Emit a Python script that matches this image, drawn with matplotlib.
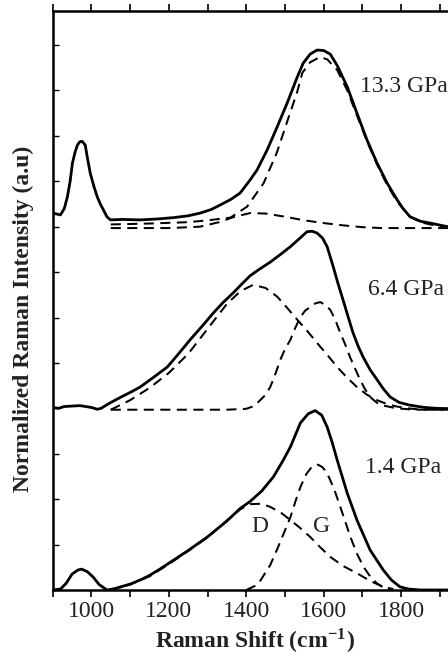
import matplotlib
matplotlib.use("Agg")
import matplotlib.pyplot as plt
from matplotlib.ticker import MultipleLocator

plt.rcParams['font.family'] = ['Liberation Serif', 'DejaVu Serif']
plt.rcParams['mathtext.fontset'] = 'stix'

# ---------------- data ----------------
# 1.4 GPa (offset 0)
x_p14 = [900, 920, 935, 950, 965, 975, 990, 1005, 1020, 1040, 1060, 1080, 1100, 1126, 1150, 1175,
         1200, 1250, 1300, 1350, 1385, 1410, 1440, 1470, 1495, 1514, 1540, 1560, 1578, 1595, 1609,
         1622, 1635, 1661, 1686, 1720, 1754, 1775, 1797, 1820, 1850, 2000]
y_p14 = [0.0, 0.02, 0.15, 0.35, 0.44, 0.46, 0.40, 0.28, 0.12, 0.0, 0.03, 0.08, 0.13, 0.22, 0.32, 0.45,
         0.59, 0.87, 1.17, 1.52, 1.80, 1.95, 2.18, 2.49, 2.85, 3.15, 3.68, 3.88, 3.95, 3.85, 3.59,
         3.25, 2.86, 2.13, 1.54, 0.88, 0.44, 0.22, 0.07, 0.02, 0.0, 0.0]
x_p14_D = [1050, 1100, 1150, 1200, 1250, 1300, 1350, 1385, 1410, 1440, 1462, 1490, 1514, 1540,
           1565, 1590, 1617, 1650, 1686, 1720, 1754, 1780]
y_p14_D = [0.0, 0.12, 0.30, 0.57, 0.86, 1.16, 1.53, 1.78, 1.89, 1.90, 1.83, 1.70, 1.54, 1.36,
           1.17, 0.95, 0.73, 0.53, 0.37, 0.20, 0.07, 0.02]
x_p14_G = [1400, 1430, 1462, 1480, 1497, 1514, 1527, 1540, 1555, 1570, 1585, 1596, 1607, 1617,
           1630, 1643, 1656, 1669, 1686, 1703, 1720, 1737, 1755, 1771]
y_p14_G = [0.0, 0.12, 0.55, 0.90, 1.25, 1.60, 1.95, 2.27, 2.55, 2.72, 2.76, 2.71, 2.60, 2.42,
           2.15, 1.83, 1.50, 1.17, 0.80, 0.51, 0.30, 0.15, 0.05, 0.0]

# 6.4 GPa (offset ~4)
x_p64 = [900, 915, 930, 950, 970, 985, 1000, 1015, 1025, 1044, 1070, 1100, 1126, 1160, 1196, 1225,
         1255, 1285, 1315, 1340, 1366, 1390, 1410, 1435, 1462, 1490, 1514, 1535, 1557, 1570, 1583,
         1597, 1609, 1625, 1637, 1650, 1663, 1676, 1690, 1702, 1720, 1738, 1755, 1772, 1795, 1823,
         1860, 1893, 2000]
y_p64 = [4.02, 4.00, 4.04, 4.05, 4.06, 4.04, 4.02, 3.98, 4.00, 4.10, 4.22, 4.35, 4.47, 4.68, 4.91, 5.20,
         5.51, 5.80, 6.10, 6.33, 6.54, 6.75, 6.92, 7.07, 7.22, 7.40, 7.56, 7.72, 7.89, 7.90, 7.86,
         7.75, 7.56, 7.11, 6.75, 6.39, 6.02, 5.66, 5.35, 5.13, 4.85, 4.63, 4.42, 4.25, 4.13, 4.07,
         4.02, 4.00, 3.98]
x_p64_D = [1050, 1100, 1150, 1200, 1250, 1300, 1350, 1385, 1418, 1450, 1480, 1505, 1532, 1558,
           1583, 1610, 1635, 1660, 1686, 1712, 1738, 1765, 1789, 1820, 1850, 2000]
y_p64_D = [3.97, 4.18, 4.45, 4.78, 5.20, 5.75, 6.30, 6.58, 6.72, 6.65, 6.46, 6.22, 5.95, 5.70,
           5.44, 5.17, 4.91, 4.68, 4.47, 4.30, 4.18, 4.09, 4.04, 4.00, 3.97, 3.97]
x_p64_G = [1050, 1200, 1350, 1400, 1420, 1436, 1450, 1462, 1475, 1488, 1500, 1514, 1527, 1540,
           1552, 1565, 1578, 1591, 1604, 1617, 1630, 1643, 1656, 1668, 1681, 1694, 1707, 1720,
           1738, 1755, 1789, 1820, 1850, 2000]
y_p64_G = [3.97, 3.97, 3.97, 3.99, 4.05, 4.18, 4.30, 4.47, 4.75, 5.07, 5.30, 5.51, 5.78, 6.01,
           6.15, 6.23, 6.31, 6.34, 6.28, 6.17, 5.95, 5.66, 5.40, 5.13, 4.88, 4.63, 4.42, 4.25,
           4.12, 4.06, 4.00, 3.98, 3.97, 3.97]

# 13.3 GPa (offset ~8)
x_p133 = [900, 920, 930, 938, 945, 951, 958, 964, 970, 976, 984, 990, 997, 1006, 1015, 1023, 1031,
          1040, 1049, 1080, 1126, 1170, 1212, 1250, 1281, 1310, 1333, 1360, 1384, 1410, 1428, 1454,
          1480, 1506, 1532, 1547, 1565, 1583, 1600, 1617, 1635, 1661, 1686, 1712, 1738, 1764, 1790,
          1805, 1823, 1850, 1875, 1920, 2000]
y_p133 = [8.30, 8.26, 8.40, 8.66, 9.00, 9.40, 9.65, 9.80, 9.87, 9.88, 9.80, 9.50, 9.18, 8.90, 8.66,
          8.50, 8.37, 8.22, 8.15, 8.16, 8.15, 8.17, 8.20, 8.24, 8.30, 8.38, 8.48, 8.60, 8.74, 9.03,
          9.25, 9.69, 10.20, 10.73, 11.30, 11.60, 11.80, 11.89, 11.88, 11.80, 11.55, 11.08, 10.50,
          9.91, 9.40, 8.96, 8.59, 8.40, 8.22, 8.12, 8.08, 8.00, 7.98]
x_p133_D = [1050, 1200, 1280, 1330, 1370, 1410, 1450, 1500, 1550, 1600, 1650, 1700, 1750, 2000]
y_p133_D = [7.97, 7.97, 8.00, 8.10, 8.22, 8.30, 8.29, 8.22, 8.14, 8.08, 8.03, 7.99, 7.97, 7.97]
x_p133_G = [1050, 1150, 1250, 1300, 1359, 1402, 1445, 1479, 1513, 1531, 1545, 1565, 1591, 1610,
            1635, 1661, 1686, 1712, 1738, 1764, 1790, 1823, 1850, 1880, 1920, 2000]
y_p133_G = [8.05, 8.07, 8.10, 8.14, 8.20, 8.44, 8.96, 9.63, 10.50, 10.95, 11.39, 11.62, 11.74,
            11.68, 11.45, 11.00, 10.45, 9.88, 9.37, 8.92, 8.55, 8.22, 8.10, 8.04, 8.00, 7.98]

labels = ["1.4 GPa", "6.4 GPa", "13.3 GPa"]
x_ticks = [1000, 1200, 1400, 1600, 1800]

# ---------------- figure ----------------
fig = plt.figure(figsize=(4.48, 6.58), dpi=100)
ax = fig.add_axes([52.7 / 448, 68 / 658, 425.8 / 448, 579 / 658])

solid = dict(color='black', lw=2.0, solid_joinstyle='round')
dash = dict(color='black', lw=1.45, dashes=(5.0, 3.2))

for xs, ys in [(x_p14, y_p14), (x_p64, y_p64), (x_p133, y_p133)]:
    ax.plot(xs, ys, **solid)
for xs, ys in [(x_p14_D, y_p14_D), (x_p14_G, y_p14_G), (x_p64_D, y_p64_D),
               (x_p64_G, y_p64_G), (x_p133_D, y_p133_D), (x_p133_G, y_p133_G)]:
    ax.plot(xs, ys, **dash)

ax.set_xlim(900, 2000)
ax.set_ylim(0, 12.75)

fs = 17
ax.text(1707, 2.69, labels[0], fontsize=fs, va='center', ha='left', color='#222222')
ax.text(1715, 6.61, labels[1], fontsize=fs, va='center', ha='left', color='#222222')
ax.text(1694, 11.08, labels[2], fontsize=fs, va='center', ha='left', color='#222222')
ax.text(1436, 1.39, "D", fontsize=fs, va='center', ha='center', color='#222222')
ax.text(1594, 1.39, "G", fontsize=fs, va='center', ha='center', color='#222222')

ax.set_xticks(x_ticks)
ax.set_xticklabels([str(t) for t in x_ticks])
ax.xaxis.set_minor_locator(MultipleLocator(100))
ax.yaxis.set_major_locator(MultipleLocator(1))
ax.set_yticklabels([])
ax.tick_params(axis='x', which='both', direction='out', length=5, width=1.2,
               labelsize=fs, pad=3, top=True, labelcolor='#222222')
ax.tick_params(axis='y', which='both', direction='in', length=4, width=1.0, left=True, right=False)
for s in ['left', 'bottom', 'top', 'right']:
    ax.spines[s].set_linewidth(1.8)

fig.text(23 / 448, 1 - 319 / 658, "Normalized Raman Intensity (a.u)", rotation=90,
         ha='center', va='center', fontsize=fs, fontweight='bold', color='#222222')
fig.text(255 / 448, 1 - 641 / 658, r"Raman Shift (cm$^{\mathregular{-1}}$)",
         ha='center', va='center', fontsize=fs, fontweight='bold', color='#222222')

fig.savefig("out.png", dpi=100)
